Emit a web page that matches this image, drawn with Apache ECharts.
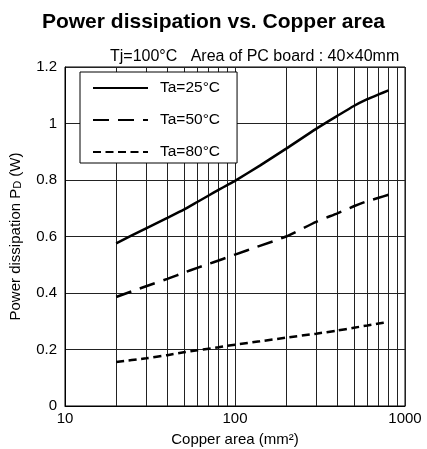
<!DOCTYPE html>
<html>
<head>
<meta charset="utf-8">
<script src="https://cdn.jsdelivr.net/npm/echarts@6/dist/echarts.min.js"></script>
<style>html,body{margin:0;padding:0;background:#fff}#c{width:427px;height:449px}</style>
</head>
<body>
<div id="c"></div>
<script>
var areas = [20, 30, 40, 50, 60, 70, 80, 90, 100, 140, 200, 300, 400, 500, 600, 700, 800];
var pd25 = [0.576, 0.629, 0.666, 0.695, 0.722, 0.745, 0.765, 0.782, 0.797, 0.851, 0.911, 0.981, 1.027, 1.062, 1.086, 1.103, 1.117];
var pd50 = [0.386, 0.424, 0.45, 0.472, 0.489, 0.503, 0.515, 0.526, 0.536, 0.567, 0.60, 0.652, 0.682, 0.707, 0.725, 0.737, 0.748];
var pd80 = [0.156, 0.169, 0.18, 0.19, 0.197, 0.203, 0.208, 0.213, 0.217, 0.229, 0.242, 0.256, 0.267, 0.277, 0.285, 0.292, 0.298];
var seriesNames = ['Ta=25°C', 'Ta=50°C', 'Ta=80°C'];
var minorGrid = [20, 30, 40, 50, 60, 70, 80, 90, 200, 300, 400, 500, 600, 700, 800, 900];

function pairs(ys) { return areas.map(function (a, i) { return [a, ys[i]]; }); }
var FONT = 'Liberation Sans, Arial, sans-serif';
var chart = echarts.init(document.getElementById('c'), null, {renderer: 'canvas'});
chart.setOption({
  animation: false,
  textStyle: {fontFamily: FONT, color: '#000'},
  title: [
    {text: 'Power dissipation vs. Copper area', left: 'center', top: 7,
     textStyle: {fontSize: 21, fontWeight: 'bold', color: '#000', fontFamily: FONT}},
    {text: 'Tj=100°C   Area of PC board : 40×40mm', left: 105, top: 44,
     textStyle: {fontSize: 16, fontWeight: 'normal', color: '#000', fontFamily: FONT}}
  ],
  legend: {
    orient: 'vertical', left: 80, top: 72, z: 10,
    itemWidth: 55, itemHeight: 14, itemGap: 16,
    backgroundColor: '#fff', borderColor: '#000', borderWidth: 1,
    padding: [8, 17, 3, 12],
    itemStyle: {opacity: 0},
    textStyle: {fontSize: 15.5, color: '#000', fontFamily: FONT, padding: [0, 0, 0, 7]},
    data: seriesNames
  },
  grid: {left: 65, right: 22, top: 67, bottom: 43, show: true, borderColor: '#000', borderWidth: 1,
         outerBoundsMode: 'none', containLabel: false},
  xAxis: {
    type: 'log', logBase: 10, min: 10, max: 1000,
    name: 'Copper area (mm²)', nameLocation: 'middle', nameGap: 26,
    nameTextStyle: {fontSize: 15, color: '#000', fontFamily: FONT},
    axisLine: {show: true, lineStyle: {color: '#000'}},
    axisTick: {show: false},
    axisLabel: {fontSize: 15, color: '#000', margin: 5, fontFamily: FONT,
      formatter: function (v) { return String(Math.round(v)); }},
    splitLine: {show: true, lineStyle: {color: '#222', width: 1}}
  },
  yAxis: {
    type: 'value', min: 0, max: 1.2, interval: 0.2,
    name: 'Power dissipation P{sub|D} (W)', nameLocation: 'middle', nameGap: 42,
    nameTextStyle: {fontSize: 15, color: '#000', fontFamily: FONT,
      rich: {sub: {fontSize: 11, color: '#000', fontFamily: FONT, verticalAlign: 'bottom'}}},
    axisLine: {show: true, lineStyle: {color: '#000'}},
    axisTick: {show: false},
    axisLabel: {fontSize: 15, color: '#000', margin: 8, fontFamily: FONT},
    splitLine: {show: true, lineStyle: {color: '#222', width: 1}}
  },
  series: [
    {name: seriesNames[0], type: 'line', data: pairs(pd25), smooth: 0.2, symbol: 'none',
     lineStyle: {color: '#000', width: 2.5, type: 'solid'}, itemStyle: {color: '#000'},
     markLine: {silent: true, symbol: 'none', label: {show: false}, z: 1,
       lineStyle: {color: '#222', width: 1, type: 'solid'},
       data: minorGrid.map(function (v) { return {xAxis: v}; })}},
    {name: seriesNames[1], type: 'line', data: pairs(pd50), smooth: 0.2, symbol: 'none',
     lineStyle: {color: '#000', width: 2.5, type: [16, 9]}, itemStyle: {color: '#000'}},
    {name: seriesNames[2], type: 'line', data: pairs(pd80), smooth: 0.2, symbol: 'none',
     lineStyle: {color: '#000', width: 2.5, type: [8, 4.5]}, itemStyle: {color: '#000'}}
  ]
});
</script>
</body>
</html>
